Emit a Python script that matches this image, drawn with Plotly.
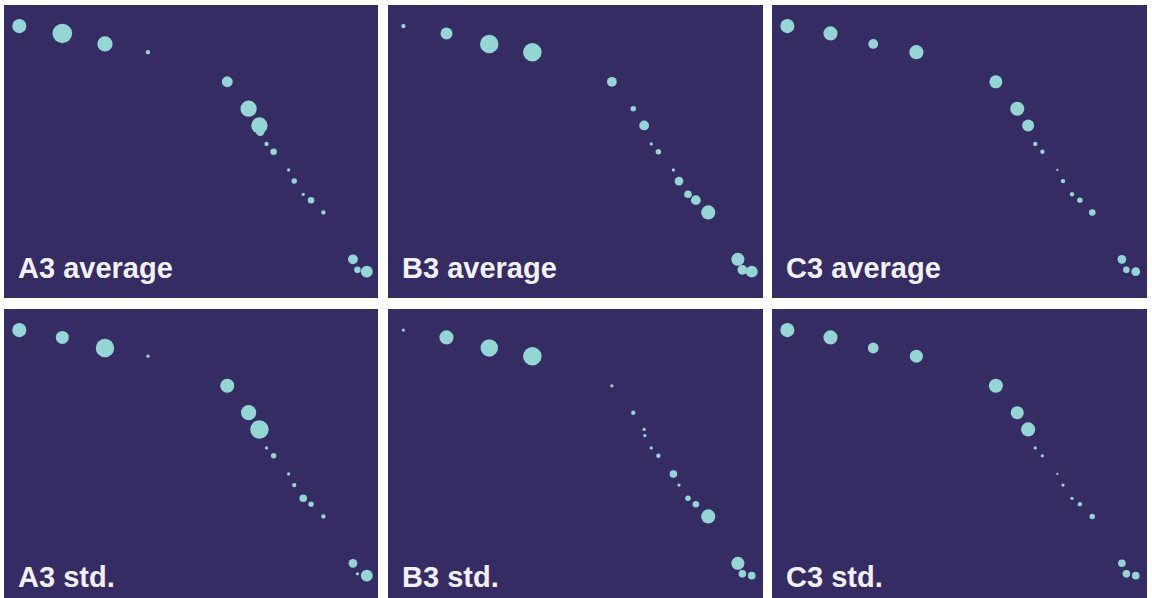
import plotly.graph_objects as go

# ---- data ----
panel_titles = ["A3 average", "B3 average", "C3 average", "A3 std.", "B3 std.", "C3 std."]

# common point positions (x: 0-100 across panel, y: 0-100 bottom->top)
x_pos = [4.1, 15.6, 27.0, 38.5, 59.7, 65.4, 68.3, 68.5, 70.2, 72.1,
         76.1, 77.6, 80.0, 82.1, 85.4, 93.3, 94.5, 97.0]
y_pos = [92.8, 90.3, 86.7, 83.9, 73.8, 64.6, 58.9, 56.8, 52.6, 49.9,
         43.7, 39.9, 35.4, 33.4, 29.2, 13.2, 9.6, 9.0]

# marker weights per panel (one per position)
a3_average = [13, 18, 14, 4, 10, 15, 15, 8, 4, 6, 3, 5, 3, 6, 4, 9, 6, 11]
b3_average = [4, 11, 17, 17, 9, 5, 9, 0, 3, 5, 3, 8, 7, 9, 13, 12, 9, 11]
c3_average = [13, 13, 9, 13, 12, 13, 11, 0, 4, 4, 2, 4, 4, 5, 6, 8, 6, 8]
a3_std = [13, 12, 17, 3, 13, 14, 17, 0, 3, 5, 3, 4, 7, 5, 4, 8, 3, 11]
b3_std = [3, 13, 16, 17, 3, 4, 3, 3, 3, 4, 7, 3, 5, 6, 13, 12, 7, 7]
c3_std = [13, 13, 10, 12, 13, 12, 13, 0, 3, 3, 2, 3, 3, 4, 5, 7, 7, 7]

panel_sizes = [a3_average, b3_average, c3_average, a3_std, b3_std, c3_std]

# ---- layout geometry ----
W, H = 1152, 598
col_px = [(4, 378), (388, 763), (772, 1147)]
row_px = [(5, 298), (309, 598)]
px_per_unit = (row_px[0][1] - row_px[0][0]) / 100.0

BG = "#352c64"
DOT = "#93d6d4"

fig = go.Figure()
annotations = []
for i, (title, sizes) in enumerate(zip(panel_titles, panel_sizes)):
    r, c = divmod(i, 3)
    n = i + 1
    xa = "xaxis" if n == 1 else f"xaxis{n}"
    ya = "yaxis" if n == 1 else f"yaxis{n}"
    xr = "x" if n == 1 else f"x{n}"
    yr = "y" if n == 1 else f"y{n}"
    x0, x1 = col_px[c]
    t, b = row_px[r]
    ylow = 100 - (b - t) / px_per_unit
    keep = [k for k, s in enumerate(sizes) if s > 0]
    fig.add_trace(go.Scatter(
        x=[x_pos[k] for k in keep], y=[y_pos[k] for k in keep],
        mode="markers", xaxis=xr, yaxis=yr, hoverinfo="skip",
        marker=dict(size=[sizes[k] for k in keep], color=DOT, sizeref=0.92,
                    opacity=1, line=dict(width=0)),
        showlegend=False))
    fig.layout[xa] = dict(domain=[x0 / W, x1 / W], range=[0, 100],
                          showgrid=False, zeroline=False, showticklabels=False,
                          showline=False, fixedrange=True, anchor=yr)
    fig.layout[ya] = dict(domain=[1 - b / H, 1 - t / H], range=[ylow, 100],
                          showgrid=False, zeroline=False, showticklabels=False,
                          showline=False, fixedrange=True, anchor=xr)
    text_center_from_bottom = 30 if r == 0 else 21
    annotations.append(dict(
        text=title, xref=f"{xr} domain", yref=f"{yr} domain",
        x=12 / (x1 - x0), y=text_center_from_bottom / (b - t),
        xanchor="left", yanchor="middle", showarrow=False,
        font=dict(family="Liberation Sans, Arial, sans-serif", size=29,
                  color="#f3f1f8", weight="bold")))

fig.update_layout(width=W, height=H, margin=dict(l=0, r=0, t=0, b=0),
                  paper_bgcolor="white", plot_bgcolor=BG,
                  annotations=annotations)

fig.write_html("out.html", config={"displayModeBar": False},
               post_script="document.body.style.margin='0px';"
                           "document.body.style.overflow='hidden';")
